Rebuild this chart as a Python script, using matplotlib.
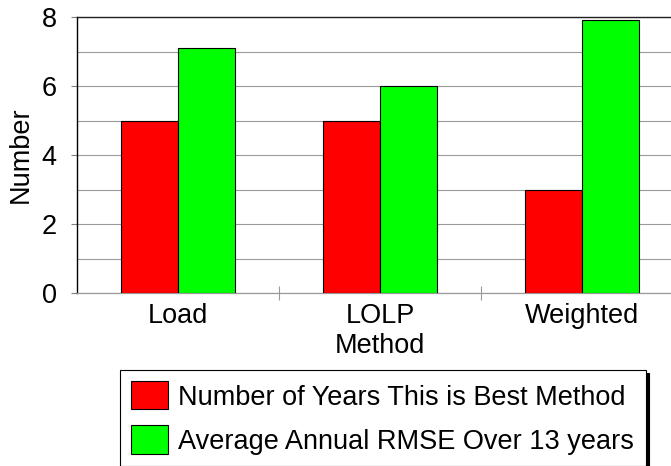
import matplotlib
matplotlib.use('Agg')
import matplotlib.pyplot as plt
import numpy as np

plt.rcParams['font.family'] = ['Liberation Sans', 'DejaVu Sans']

methods = ['Load', 'LOLP', 'Weighted']
best_years = [5, 5, 3]          # Number of Years This is Best Method
avg_rmse = [7.1, 6.0, 7.9]      # Average Annual RMSE Over 13 years
series_names = ['Number of Years This is Best Method',
                'Average Annual RMSE Over 13 years']

W, H = 671, 466
fig = plt.figure(figsize=(W / 100, H / 100), dpi=100)
# axes run past the right edge, like the cropped original
ax = fig.add_axes([77 / W, (H - 293) / H, 606 / W, 276 / H])

x = np.arange(len(methods))
bw = 0.28
ax.bar(x - bw, best_years, bw, align='edge', color='#ff0000',
       edgecolor='black', linewidth=0.8, label=series_names[0], zorder=3)
ax.bar(x, avg_rmse, bw, align='edge', color='#00ff00',
       edgecolor='black', linewidth=0.8, label=series_names[1], zorder=3)

ax.set_xlim(-0.5, 2.5)
ax.set_ylim(0, 8)

# gridlines at every integer, labels every 2
ax.set_yticks([0, 2, 4, 6, 8])
ax.set_yticks(np.arange(0, 9, 1), minor=True)
ax.yaxis.grid(True, which='both', color='#9a9a9a', linewidth=0.8, zorder=0)
ax.tick_params(axis='y', which='major', length=4.5, width=0.8,
               color='#808080', pad=10, labelsize=19.5)
ax.tick_params(axis='y', which='minor', length=0)

ax.set_xticks(x)
ax.set_xticklabels(methods)
ax.set_xticks([0.5, 1.5], minor=True)
ax.tick_params(axis='x', which='major', length=0, pad=7, labelsize=19.5)
ax.tick_params(axis='x', which='minor', direction='inout', length=9.5,
               width=0.8, color='#9a9a9a')

ax.spines['right'].set_visible(False)
ax.spines['left'].set_color('black')
ax.spines['left'].set_linewidth(1.0)
ax.spines['top'].set_color('#202020')
ax.spines['top'].set_linewidth(1.0)
ax.spines['bottom'].set_color('#9a9a9a')
ax.spines['bottom'].set_linewidth(0.9)

ax.set_xlabel('Method', fontsize=19.5, labelpad=3)
ax.set_ylabel('Number', fontsize=19.5)
ax.yaxis.set_label_coords(-0.071, 0.5)

leg = fig.legend(loc='upper left', bbox_to_anchor=(120 / W, 1 - 370 / H),
                 bbox_transform=fig.transFigure, borderaxespad=0,
                 fontsize=19.5, frameon=True, fancybox=False,
                 handlelength=1.37, handleheight=1.22, handletextpad=0.37,
                 borderpad=0.42, labelspacing=0.55,
                 shadow={'color': 'black', 'alpha': 1, 'ox': 2.2, 'oy': -2.2})
leg.get_frame().set_edgecolor('black')
leg.get_frame().set_linewidth(0.8)

fig.savefig('out.png', dpi=100)
